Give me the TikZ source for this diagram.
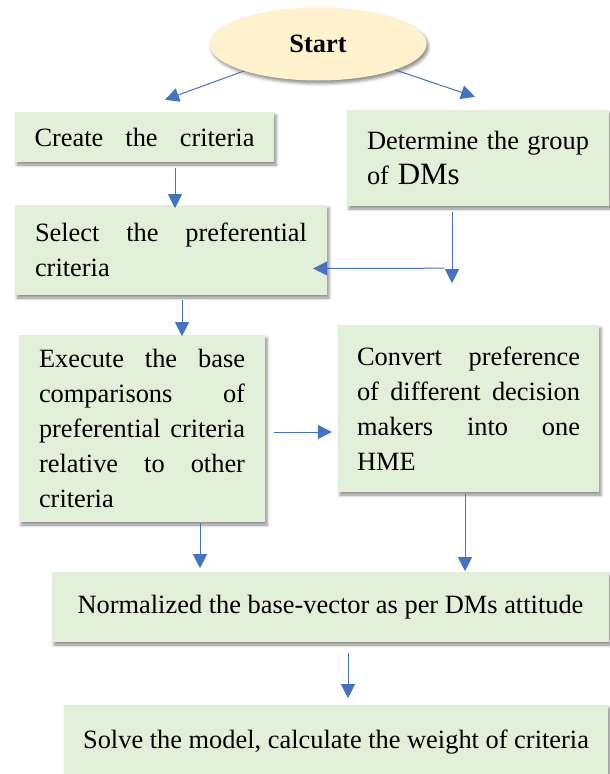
\documentclass[tikz,border=0pt]{standalone}
\usepackage{fontspec}
\setmainfont{Liberation Serif}
\usetikzlibrary{shapes.geometric,arrows.meta,calc,shadows.blur}
\definecolor{boxgreen}{HTML}{E2EFD9}
\definecolor{startyellow}{HTML}{FFF2CC}
\definecolor{flowblue}{HTML}{4472C4}

\begin{document}
\begin{tikzpicture}[x=1pt,y=-1pt,
  stepbox/.style={rectangle, fill=boxgreen, inner sep=0pt, align=left,
    font=\fontsize{26.4pt}{35pt}\selectfont,
    blur shadow={shadow xshift=2pt,shadow yshift=-3pt,shadow blur radius=3pt,shadow opacity=45}},
  startbox/.style={ellipse, fill=startyellow, inner sep=0pt,
    minimum width=217pt, minimum height=73pt,
    font=\fontsize{26.4pt}{35pt}\selectfont\bfseries,
    blur shadow={shadow xshift=2pt,shadow yshift=-3pt,shadow blur radius=3pt,shadow opacity=45}},
  flow/.style={flowblue, line width=1pt, -{Triangle[length=14pt,width=14pt]}}]

\useasboundingbox (0,0) rectangle (610,774);

%%%%start
\node[startbox] (start) at (318,44) {Start};

%%%%boxes, row 1
\node[stepbox, minimum width=259pt, minimum height=50pt, text width=220pt] (create) at (144.5,137)
  {Create\hfill the\hfill criteria};
\node[stepbox, minimum width=262pt, minimum height=96pt, text width=222pt] (determine) at (478,158)
  {Determine\hfill the\hfill group\\ of {\fontsize{31pt}{37pt}\selectfont DMs}};

%%%%row 2
\node[stepbox, minimum width=312pt, minimum height=90pt, text width=272pt] (select) at (171,250)
  {Select\hfill the\hfill preferential\\ criteria};

%%%%row 3
\node[stepbox, minimum width=246pt, minimum height=187pt, text width=206pt] (execute) at (142,428.5)
  {Execute\hfill the\hfill base\\ comparisons\hfill of\\ preferential\hfill criteria\\ relative\hfill to\hfill other\\ criteria};
\node[stepbox, minimum width=261pt, minimum height=167pt, text width=223pt] (convert) at (468.5,408.5)
  {Convert\hfill preference\\ of\hfill different\hfill decision\\ makers\hfill into\hfill one\\ HME};

%%%%row 4, 5
\node[stepbox, minimum width=557pt, minimum height=70pt, align=center] (normalized) at (330.5,607)
  {Normalized the base-vector as per DMs attitude};
\node[stepbox, minimum width=544pt, minimum height=74pt, align=center] (solve) at (336,742)
  {Solve the model, calculate the weight of criteria};

%%%%%%%%arrows
\draw[flow] (start) -- ($(create.north)+(20.5,-12)$);
\draw[flow] (start) -- ($(determine.north)+(-3,-13)$);
\draw[flow] ($(create.south)+(30.5,6)$) -- ($(create.south)+(30.5,46)$);
\draw[flow] ($(determine.south)+(-26,6)$) -- ($(determine.south)+(-26,77)$);
\coordinate (join) at ($(determine.south)+(-34,62)$);
\draw[flow] (join) -- ($(select.east)+(-14,18.5)$);
\draw[flow] ($(select.south)+(11,5)$) -- ($(select.south)+(11,41)$);
\draw[flow] ($(execute.east)+(9,3.5)$) -- ($(convert.west)+(-6,23.5)$);
\draw[flow] ($(execute.south)+(58,1)$) -- ($(execute.south)+(58,46)$);
\draw[flow] ($(convert.south)+(-3.5,2)$) -- ($(convert.south)+(-3.5,79)$);
\draw[flow] ($(normalized.south)+(17.5,11)$) -- ($(normalized.south)+(17.5,56)$);

\end{tikzpicture}
\end{document}
